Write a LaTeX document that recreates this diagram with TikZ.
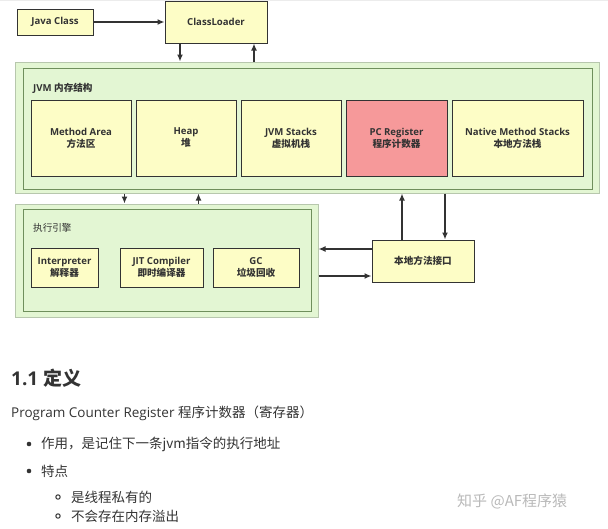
\documentclass[tikz,border=0pt]{standalone}
\usepackage{fontspec}
\setmainfont{Open Sans}
\newfontfamily\cjk{Noto Sans CJK SC}
\usetikzlibrary{arrows.meta}
\definecolor{boxyellow}{HTML}{FDFDC6}
\definecolor{areagreen}{HTML}{E3F6D3}
\definecolor{areaedge}{HTML}{6F8F5C}
\definecolor{pcred}{HTML}{F6999A}
\definecolor{inkgray}{HTML}{333333}
\begin{document}
\begin{tikzpicture}[
    x=1pt, y=-1pt,
    font=\fontsize{9.6}{12}\selectfont\bfseries,
    box/.style={rectangle, draw=inkgray, line width=1pt, fill=boxyellow, align=center, text=inkgray, inner sep=0pt},
    area/.style={rectangle, draw=areaedge!50, line width=1pt, fill=areagreen, inner sep=0pt},
    inner/.style={rectangle, draw=areaedge, line width=0.8pt, inner sep=0pt},
    pcbox/.style={box, fill=pcred},
    arrow/.style={-{Latex[length=7pt,width=6pt]}, line width=1.6pt, draw=inkgray},
    body/.style={anchor=west, inner sep=0pt, text=inkgray, font=\fontsize{13.5}{16}\selectfont}
]
\useasboundingbox (0,0) rectangle (608,528);

% Grid paper
\draw[gray!15, line width=0.3pt, step=10pt] (0,0) grid (608,-335);

% Loading
\node[box, minimum width=76pt, minimum height=26pt] (jc) at (55,22) {Java Class};
\node[box, minimum width=102pt, minimum height=42pt] (cl) at (216,22) {ClassLoader};

% JVM memory
\node[area, minimum width=584pt, minimum height=131pt] (jvm) at (307,127.5) {};
\node[inner, minimum width=569pt, minimum height=121pt] (jvmin) at (307.5,128.5) {};
\node[anchor=west, inner sep=0pt, text=inkgray] (jvmlbl) at (33,88) {JVM {\cjk 内存结构}};
\node[box, minimum width=100pt, minimum height=76pt] (ma) at (81,138) {Method Area\\{\cjk 方法区}};
\node[box, minimum width=100pt, minimum height=76pt] (heap) at (186,138) {Heap\\{\cjk 堆}};
\node[box, minimum width=100pt, minimum height=76pt] (stk) at (291,138) {JVM Stacks\\{\cjk 虚拟机栈}};
\node[pcbox, minimum width=101pt, minimum height=76pt] (pc) at (396.5,138) {PC Register\\{\cjk 程序计数器}};
\node[box, minimum width=131pt, minimum height=76pt] (nms) at (517.5,138) {Native Method Stacks\\{\cjk 本地方法栈}};

% Execution engine
\node[area, minimum width=303pt, minimum height=113pt] (exec) at (166.5,260.5) {};
\node[inner, minimum width=288pt, minimum height=102pt] (execin) at (167,260) {};
\node[anchor=west, inner sep=0pt, text=inkgray, font=\fontsize{9.6}{12}\selectfont\cjk] (execlbl) at (33,228) {执行引擎};
\node[box, minimum width=67pt, minimum height=39pt] (interp) at (64.5,267.5) {Interpreter\\{\cjk 解释器}};
\node[box, minimum width=83pt, minimum height=39pt] (jit) at (161.5,267.5) {JIT Compiler\\{\cjk 即时编译器}};
\node[box, minimum width=86pt, minimum height=39pt] (gc) at (256,267.5) {GC\\{\cjk 垃圾回收}};

% Native interface
\node[box, minimum width=102pt, minimum height=42pt] (jni) at (423,261) {{\cjk 本地方法接口}};

% Arrows
\draw[arrow] (jc.east) -- (cl.west);
\draw[arrow] ([xshift=-36pt]cl.south) -- ([xshift=-36pt]cl.south |- jvm.north);
\draw[arrow] ([xshift=38pt]cl.south |- jvm.north) -- ([xshift=38pt]cl.south);
\draw[arrow] ([xshift=-42pt]exec.north |- jvm.south) -- ([xshift=-42pt]exec.north);
\draw[arrow] ([xshift=32pt]exec.north) -- ([xshift=32pt]exec.north |- jvm.south);
\draw[arrow] ([xshift=-21pt]jni.north) -- ([xshift=-21pt]jni.north |- jvm.south);
\draw[arrow] ([xshift=22pt]jni.north |- jvm.south) -- ([xshift=22pt]jni.north);
\draw[arrow] ([yshift=12pt]jni.west) -- ([yshift=12pt]jni.west -| exec.east);
\draw[arrow] ([yshift=-15pt]jni.west -| exec.east) -- ([yshift=-15pt]jni.west);

% Text below
\node[body, font=\fontsize{19}{22}\selectfont\bfseries] (head) at (11,378) {1.1 {\cjk 定义}};
\node[body] (defn) at (11,413) {Program Counter Register {\cjk 程序计数器（寄存器）}};
\fill[inkgray] (29,444) circle (2.3pt);
\node[body] (use) at (41,444) {\cjk 作用，是记住下一条jvm指令的执行地址};
\fill[inkgray] (29,471) circle (2.3pt);
\node[body] (feat) at (41,471) {\cjk 特点};
\draw[inkgray, line width=1pt] (58,497) circle (2.2pt);
\node[body] (priv) at (71,497) {\cjk 是线程私有的};
\draw[inkgray, line width=1pt] (58,516) circle (2.2pt);
\node[body] (noof) at (71,516) {\cjk 不会存在内存溢出};

% Watermark
\node[anchor=west, inner sep=0pt, text=gray!55, font=\fontsize{15}{18}\selectfont\cjk] (mark) at (457,501) {知乎 @AF程序猿};
\end{tikzpicture}
\end{document}
